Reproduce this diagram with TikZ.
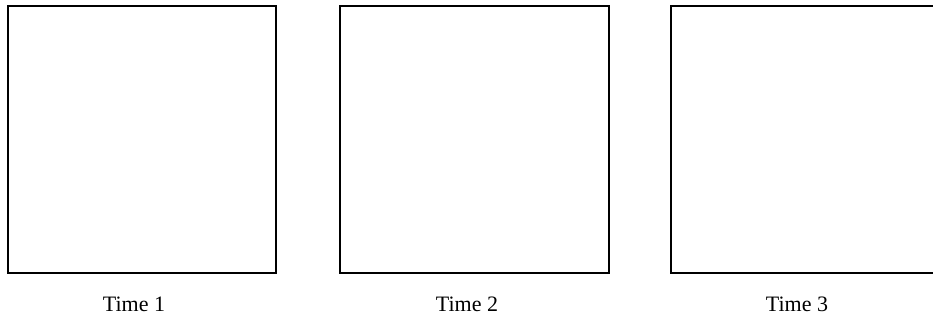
\documentclass[tikz,border=0pt]{standalone}
\usepackage{fontspec}
\setmainfont{Liberation Serif}
\begin{document}
\begin{tikzpicture}[x=1pt,y=-1pt,
  panel/.style={draw=black,line width=1.6pt,rectangle,inner sep=0pt,minimum height=267pt,anchor=north west},
  timelabel/.style={font=\fontsize{22}{24}\selectfont,anchor=base,inner sep=0pt}]
\clip (0,0) rectangle (933,322);
\node[panel,minimum width=268pt] (box1) at (7,5) {};
\node[panel,minimum width=269pt] (box2) at (339,5) {};
\node[panel,minimum width=280pt] (box3) at (670,5) {};
\node[timelabel] (t1) at (134,311) {Time 1};
\node[timelabel] (t2) at (467,311) {Time 2};
\node[timelabel] (t3) at (797,311) {Time 3};
\end{tikzpicture}
\end{document}
